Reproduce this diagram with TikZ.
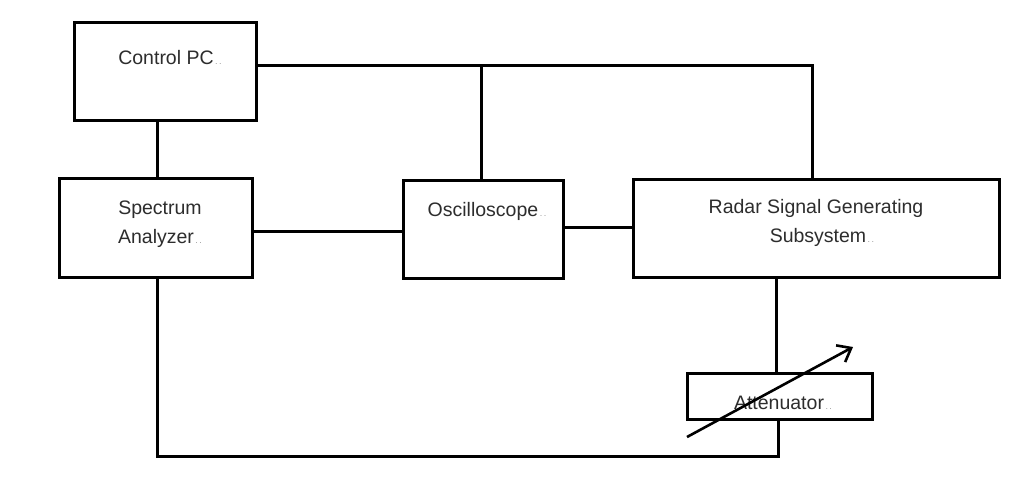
\documentclass[tikz,border=0pt]{standalone}
\usepackage{fontspec}
\setmainfont{Liberation Sans}
\usetikzlibrary{arrows.meta}
\definecolor{txt}{RGB}{45,45,45}
\newcommand{\pmark}{{\fontsize{9}{9}\selectfont\color{gray!80}\,.\,.}}
\tikzset{
  blk/.style={draw=black, line width=3pt, fill=white, inner sep=0pt},
  wire/.style={draw=black, line width=3pt},
  lbl/.style={text=txt, font=\fontsize{19.5}{29}\selectfont, align=center, inner sep=0pt}
}
\begin{document}
\begin{tikzpicture}[x=1pt,y=-1pt]
\useasboundingbox (0,0) rectangle (1016,488);
\fill[white] (0,0) rectangle (1016,488);
% boxes
\node[blk, minimum width=182pt, minimum height=98pt] (pc) at (165,71) {};
\node[blk, minimum width=193pt, minimum height=99pt] (sa) at (155.5,227.5) {};
\node[blk, minimum width=160pt, minimum height=98pt] (osc) at (483,229) {};
\node[blk, minimum width=366pt, minimum height=98pt] (rad) at (816,228) {};
\node[blk, minimum width=185pt, minimum height=46pt] (att) at (779.5,396) {};
% coordinates
\coordinate (j1) at (481,65);
\coordinate (j2) at (812,65);
\coordinate (b1) at (157,456);
\coordinate (b2) at (778,456);
% wires
\draw[wire] (pc.east |- j1) -- (j2) -- (j2 |- rad.north);
\draw[wire] (j1) -- (j1 |- osc.north);
\draw[wire] (b1 |- pc.south) -- (b1 |- sa.north);
\draw[wire] (sa.east |- 0,231) -- (osc.west |- 0,231);
\draw[wire] (osc.east |- 0,227) -- (rad.west |- 0,227);
\draw[wire] (b1 |- sa.south) -- (b1) -- (b2) -- (b2 |- att.south);
\draw[wire] (776,0 |- rad.south) -- (776,0 |- att.north);
% labels
\node[lbl] (tpc) at (170,58) {Control PC\pmark};
\node[lbl] (tsa) at (160,224) {Spectrum\\Analyzer\pmark};
\node[lbl] (tosc) at (487,211) {Oscilloscope\pmark};
\node[lbl] (trad) at (816,223) {Radar Signal Generating\\\hspace*{12pt}Subsystem\pmark};
\node[lbl] (tatt) at (783,403) {Attenuator\pmark};
% variable arrow
\coordinate (a1) at (687,437);
\coordinate (a2) at (853,347);
\draw[line width=2.6pt, -{Straight Barb[length=12pt, width=19pt, line width=2.6pt]}] (a1) -- (a2);
\end{tikzpicture}
\end{document}
